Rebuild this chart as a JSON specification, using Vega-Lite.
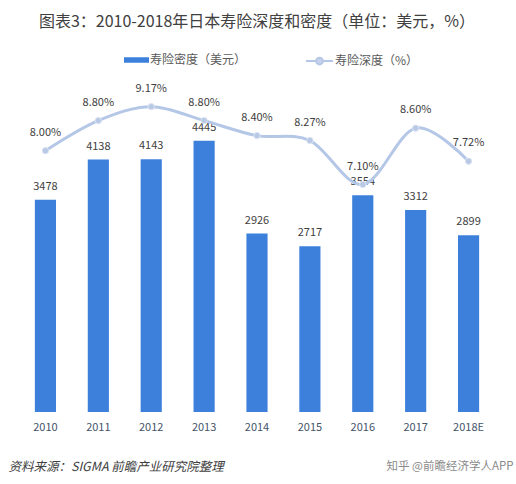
{
  "$schema": "https://vega.github.io/schema/vega-lite/v6.json",
  "width": 476,
  "height": 332,
  "autosize": {"type": "none"},
  "padding": {"left": 19, "top": 80, "right": 21, "bottom": 72},
  "background": "white",
  "config": {
    "view": {"stroke": null},
    "font": "Noto Sans CJK SC",
    "legend": {"padding": 0}
  },
  "title": {
    "text": "图表3：2010-2018年日本寿险深度和密度（单位：美元，%）",
    "font": "Noto Sans CJK SC",
    "fontSize": 16,
    "fontWeight": "normal",
    "color": "#404040",
    "anchor": "middle",
    "offset": 17
  },
  "data": {
    "values": [
      {"year": "2010", "density": 3478, "depth": 0.08},
      {"year": "2011", "density": 4138, "depth": 0.088},
      {"year": "2012", "density": 4143, "depth": 0.0917},
      {"year": "2013", "density": 4445, "depth": 0.088},
      {"year": "2014", "density": 2926, "depth": 0.084},
      {"year": "2015", "density": 2717, "depth": 0.0827},
      {"year": "2016", "density": 3554, "depth": 0.071},
      {"year": "2017", "density": 3312, "depth": 0.086},
      {"year": "2018E", "density": 2899, "depth": 0.0772}
    ]
  },
  "encoding": {
    "x": {
      "field": "year",
      "type": "ordinal",
      "sort": null,
      "scale": {"paddingInner": 0.6, "paddingOuter": 0.3},
      "axis": {
        "labelAngle": 0,
        "labelFontSize": 11,
        "labelColor": "#44546A",
        "labelPadding": 9,
        "domain": false,
        "ticks": false,
        "grid": false,
        "title": "资料来源：SIGMA  前瞻产业研究院整理",
        "titleFontSize": 12.5,
        "titleFontStyle": "italic",
        "titleFontWeight": "normal",
        "titleColor": "#404040",
        "titleAlign": "left",
        "titleBaseline": "middle",
        "titleAnchor": "start",
        "titleX": -11,
        "titleY": 54
      }
    }
  },
  "layer": [
    {
      "encoding": {
        "y": {
          "field": "density",
          "type": "quantitative",
          "scale": {"domain": [0, 5443], "nice": false, "zero": true},
          "axis": null
        }
      },
      "layer": [
        {
          "mark": {"type": "bar"},
          "encoding": {
            "color": {
              "datum": "寿险密度（美元）",
              "type": "nominal",
              "scale": {"range": ["#3D80DC"]},
              "legend": {
                "title": null,
                "orient": "none",
                "legendX": 105,
                "legendY": -32.5,
                "symbolType": "M-1,-0.22H1V0.22H-1Z",
                "symbolSize": 625,
                "symbolStrokeWidth": 0,
                "labelFontSize": 12,
                "labelColor": "#595959",
                "labelOffset": 1
              }
            }
          }
        },
        {
          "mark": {"type": "text", "baseline": "middle", "dy": -13, "fontSize": 11, "color": "#404040"},
          "encoding": {"text": {"field": "density", "type": "quantitative"}}
        }
      ]
    },
    {
      "encoding": {
        "y": {
          "field": "depth",
          "type": "quantitative",
          "scale": {"domain": [0.0105, 0.0988], "nice": false, "zero": false},
          "axis": {
            "orient": "right",
            "labels": false,
            "ticks": false,
            "domain": false,
            "grid": false,
            "title": "知乎 @前瞻经济学人APP",
            "titleAngle": 0,
            "titleAlign": "right",
            "titleBaseline": "middle",
            "titleX": 18,
            "titleY": 386,
            "titleFontSize": 11.5,
            "titleFontWeight": "normal",
            "titleColor": "#8A8A8A"
          }
        }
      },
      "layer": [
        {
          "mark": {"type": "line", "interpolate": "cardinal", "strokeWidth": 3},
          "encoding": {
            "color": {
              "datum": "寿险深度（%）",
              "type": "nominal",
              "scale": {"range": ["#B4C7E7"]},
              "legend": {
                "title": null,
                "orient": "none",
                "legendX": 286,
                "legendY": -33.5,
                "symbolType": "M-1,0H-0.25M0.25,0H1M0.25,0A0.25,0.25 0 1 1 -0.25,0A0.25,0.25 0 1 1 0.25,0",
                "symbolSize": 729,
                "symbolStrokeWidth": 2,
                "symbolFillColor": "#C6D3EA",
                "labelFontSize": 12,
                "labelColor": "#595959",
                "labelOffset": 1
              }
            }
          }
        },
        {
          "mark": {"type": "point", "filled": true, "size": 40, "fill": "#B9C9E5", "stroke": "#DCE5F3", "strokeWidth": 1, "opacity": 1}
        },
        {
          "mark": {"type": "text", "baseline": "middle", "dy": -18, "fontSize": 11, "color": "#404040"},
          "encoding": {"text": {"field": "depth", "type": "quantitative", "format": ".2%"}}
        }
      ]
    }
  ],
  "resolve": {"scale": {"y": "independent", "color": "independent"}}
}
